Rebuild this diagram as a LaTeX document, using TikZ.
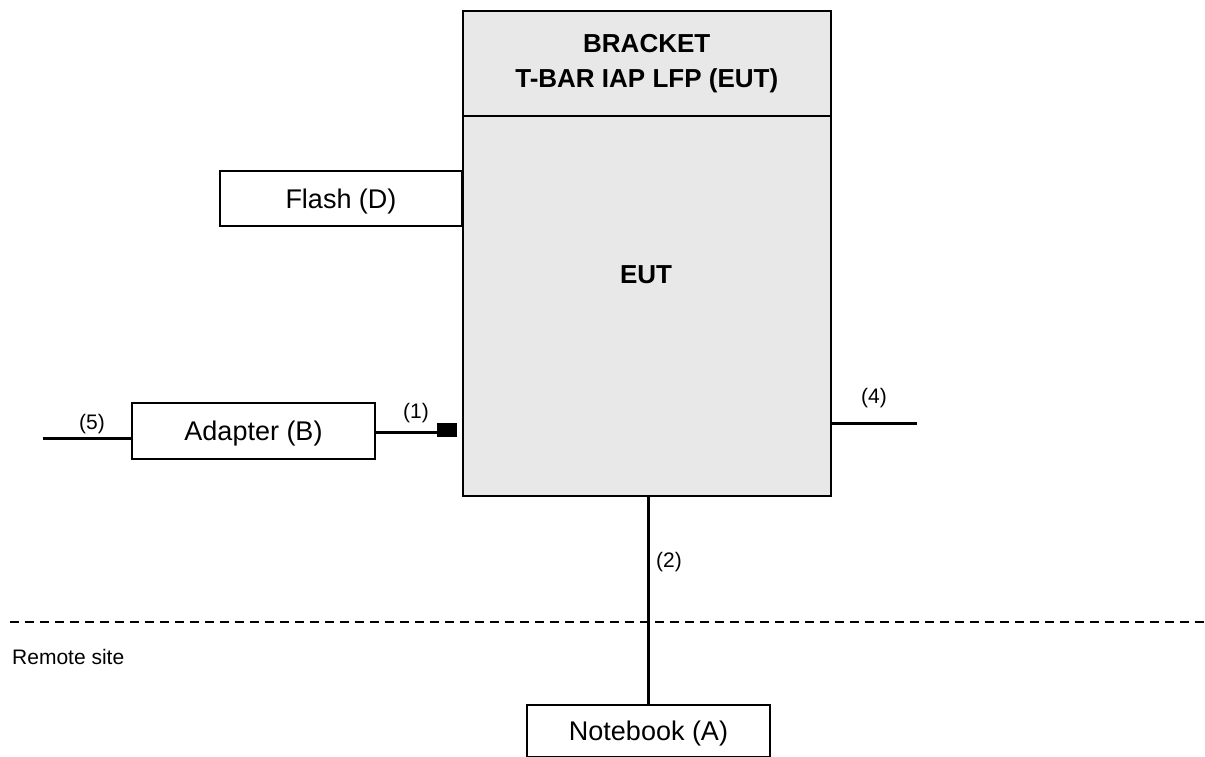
\documentclass[tikz,border=0pt]{standalone}
\usepackage{fontspec}
\setmainfont{Liberation Sans}
\definecolor{eutgray}{RGB}{232,232,232}
\begin{document}
\begin{tikzpicture}[x=1pt,y=-1pt,
  box/.style={draw=black,line width=1.5pt,fill=white,inner sep=0pt,text height=19.4pt,text depth=0pt,font=\fontsize{27}{32}\selectfont},
  graybox/.style={draw=black,line width=1.5pt,fill=eutgray,inner sep=0pt},
  wire/.style={line width=3pt},
  lbl/.style={font=\fontsize{21}{25}\selectfont,inner sep=0pt}]
\useasboundingbox (0,0) rectangle (1205,756);
% EUT body
\node[graybox,minimum width=368,minimum height=485,anchor=north west] (eut) at (462,10) {};
\node[graybox,minimum width=368,minimum height=105,anchor=north west,align=center,
  font=\fontsize{26}{35}\selectfont\bfseries] (hdr) at (462,10) {BRACKET\\T-BAR IAP LFP (EUT)};
\node[font=\fontsize{26}{30}\selectfont\bfseries] (euttxt) at (646,275) {EUT};
% Flash
\node[box,minimum width=242,minimum height=55] (flash) at (341,198.5) {Flash (D)};
% Adapter
\node[box,minimum width=243,minimum height=56] (adapter) at (253.5,431) {Adapter (B)};
% Notebook
\node[box,minimum width=243,minimum height=52,anchor=north] (nb) at (648.5,704) {Notebook (A)};
% connector block
\node[fill=black,minimum width=20,minimum height=14,inner sep=0pt] (conn) at (447,430) {};
% free ends
\coordinate (c5) at (43,438);
\coordinate (c4) at (917,423);
\coordinate (d1) at (10,622);
\coordinate (d2) at (1205,622);
% wires
\draw[wire] (c5) -- (adapter.west |- c5);
\draw[wire] (adapter.east |- 0,432) -- (conn.west |- 0,432);
\draw[wire] (eut.east |- c4) -- (c4);
\draw[wire] (nb.north) -- (eut.south -| nb.north);
\draw[line width=2pt,dash pattern=on 9pt off 6pt] (d1) -- (d2);
% labels
\node[lbl] (l5) at (92,424) {(5)};
\node[lbl] (l1) at (416,413) {(1)};
\node[lbl] (l4) at (874,398) {(4)};
\node[lbl] (l2) at (669,562) {(2)};
\node[lbl,anchor=west] (remote) at (12,657) {Remote site};
\end{tikzpicture}
\end{document}
